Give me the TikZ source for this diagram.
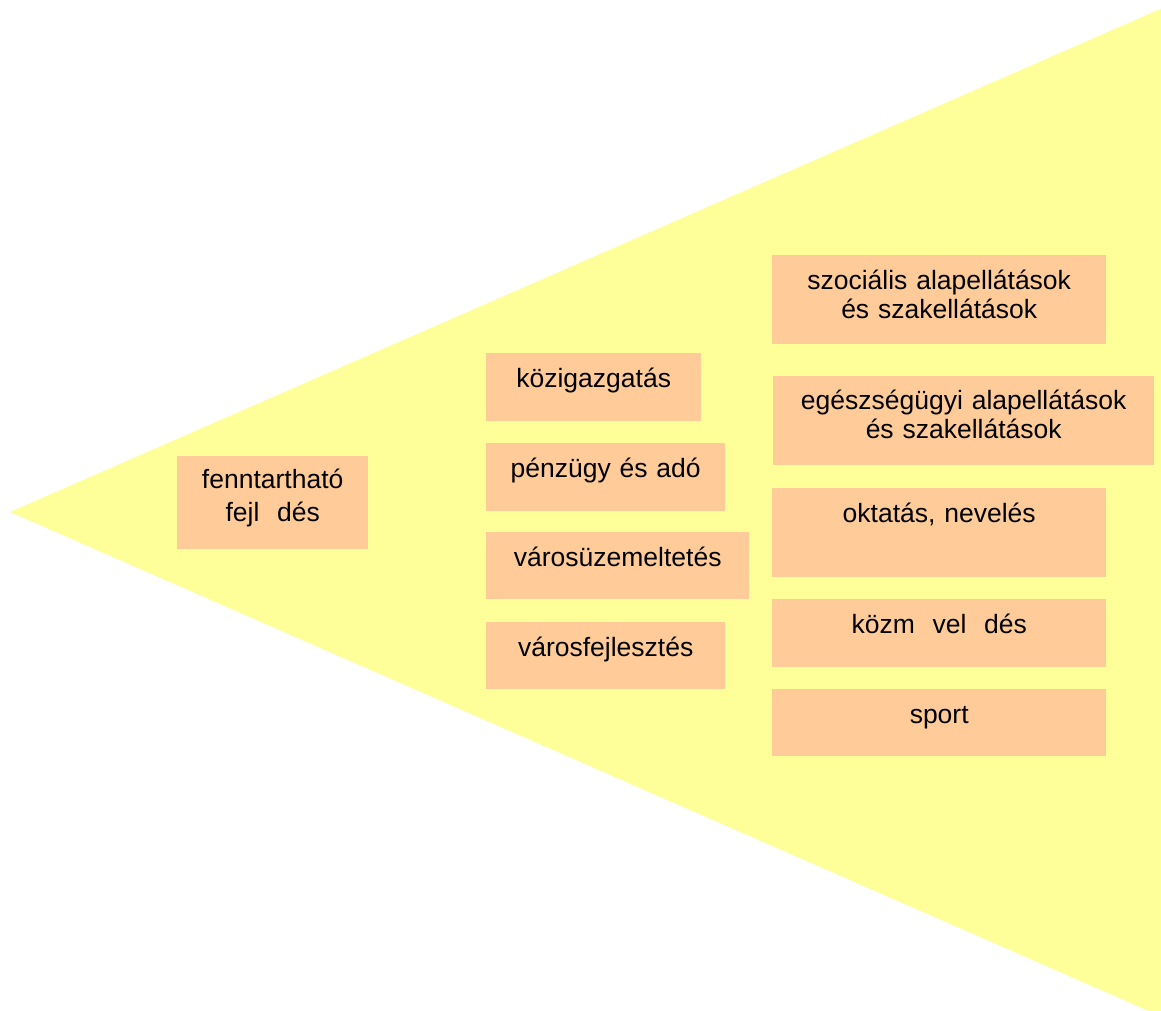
\documentclass[tikz,border=0pt]{standalone}
\usepackage{fontspec}
\setmainfont{Liberation Sans}
\usetikzlibrary{positioning}
\definecolor{coneyellow}{HTML}{FFFF99}
\definecolor{tileorange}{HTML}{FFCC99}
\tikzstyle{cone}=[fill=coneyellow,
                  draw=none]
\tikzstyle{tile}=[anchor=north west,
                  fill=tileorange,
                  inner sep=0pt,
                  align=center,
                  text height=34pt,
                  font=\fontsize{26.5pt}{29pt}\selectfont]

\begin{document}
\begin{tikzpicture}[x=1pt,y=-1pt]
    \useasboundingbox (0,0) rectangle (1161,1010);
    \begin{scope}
      \clip (0,0) rectangle (1161,1010);
      \fill[cone] (10,512) -- (1190,-4) -- (1190,1029) -- cycle;
    \end{scope}

    % root
    \node[tile, text width=191pt, text height=32pt, text depth=61pt,
          font=\fontsize{26.5pt}{33pt}\selectfont] (fennt) at (177,456) {fenntartható\\fejl\ \ dés};

    % middle column
    \node[tile, text width=215pt, text depth=34pt] (kozig) at (486,353) {közigazgatás};
    \node[tile, text width=239pt, text depth=34pt] (penz) at (486,443) {pénzügy és adó};
    \node[tile, text width=263pt, text depth=33pt] (varosuz) at (486,532) {városüzemeltetés};
    \node[tile, text width=239pt, text depth=33pt] (varosfejl) at (486,622) {városfejlesztés};

    % right column
    \node[tile, text width=334pt, text depth=55pt] (szoc) at (772,255) {szociális alapellátások\\és szakellátások};
    \node[tile, text width=381pt, text height=33pt, text depth=56pt] (egesz) at (773,376) {egészségügyi alapellátások\\és szakellátások};
    \node[tile, text width=334pt, text depth=55pt] (oktat) at (772,488) {oktatás, nevelés};
    \node[tile, text width=334pt, text depth=34pt] (kozmuv) at (772,599) {közm\ \ vel\ \ dés};
    \node[tile, text width=334pt, text depth=33pt] (sport) at (772,689) {sport};
\end{tikzpicture}
\end{document}
